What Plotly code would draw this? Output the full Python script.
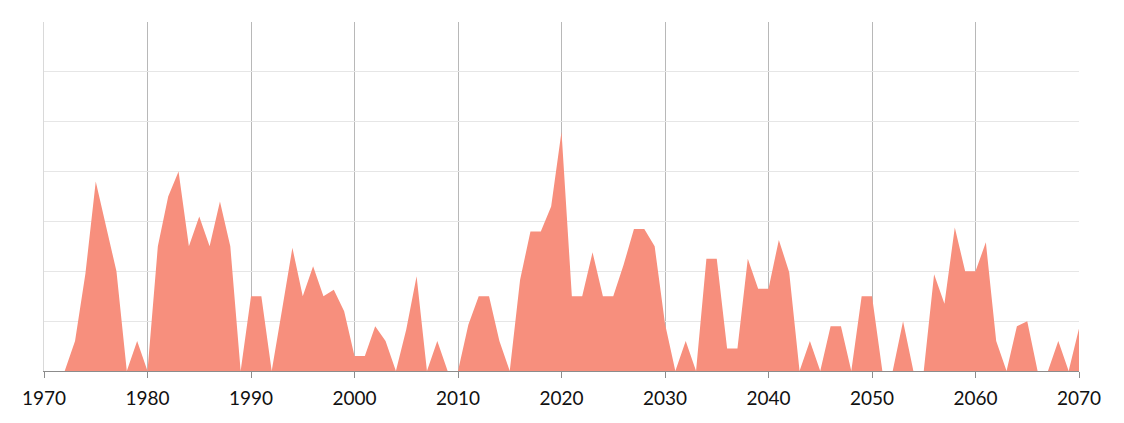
import plotly.graph_objects as go

years = list(range(1970, 2071))
values = [
    0, 0, 0, 6, 19.5, 38, 29, 20, 0, 6,            # 1970-1979
    0, 25, 35, 40, 25, 31, 25, 34, 25, 0,          # 1980-1989
    15, 15, 0, 12.3, 24.7, 15, 21, 15, 16.3, 12,   # 1990-1999
    3, 3, 9, 6, 0, 8.3, 19, 0, 6, 0,               # 2000-2009
    0, 9.3, 15, 15, 6, 0, 18.3, 28, 28, 33,        # 2010-2019
    48, 15, 15, 23.8, 15, 15, 21.3, 28.5, 28.5, 25,  # 2020-2029
    9.5, 0, 6, 0, 22.5, 22.5, 4.5, 4.5, 22.5, 16.5,  # 2030-2039
    16.5, 26.3, 19.8, 0, 6, 0, 9, 9, 0, 15,        # 2040-2049
    15, 0, 0, 10, 0, 0, 19.4, 13.5, 28.8, 20,      # 2050-2059
    20, 25.8, 6, 0, 9, 10, 0, 0, 6, 0,             # 2060-2069
    8.5,                                           # 2070
]
tick_vals = list(range(1970, 2071, 10))
tick_text = [str(v) for v in tick_vals]

fig = go.Figure()
fig.add_trace(go.Scatter(
    x=years, y=values, mode="none", fill="tozeroy",
    fillcolor="rgb(247,143,125)", hoverinfo="x+y",
))

# page body has an 8px default margin, so the figure is offset by 8px
fig.update_layout(
    width=1116, height=415,
    margin=dict(l=36, r=45, t=14, b=52),
    paper_bgcolor="white", plot_bgcolor="white",
    showlegend=False,
    font=dict(family="Lato, 'Open Sans', sans-serif", size=19, color="#111111"),
)
fig.update_xaxes(
    range=[1970, 2070], tickvals=tick_vals, ticktext=tick_text,
    showgrid=True, gridcolor="#b8b8b8", gridwidth=1,
    showline=True, linecolor="#8c8c8c", linewidth=1,
    ticks="outside", ticklen=6, tickcolor="#8c8c8c",
    ticklabelstandoff=4,
    zeroline=False, fixedrange=True,
)
fig.update_yaxes(
    range=[0, 70], dtick=10, showticklabels=False,
    showgrid=True, gridcolor="#e6e6e6", gridwidth=1,
    showline=True, linecolor="#d9d9d9", linewidth=1,
    zeroline=False, fixedrange=True,
)

fig.write_html("out.html")
